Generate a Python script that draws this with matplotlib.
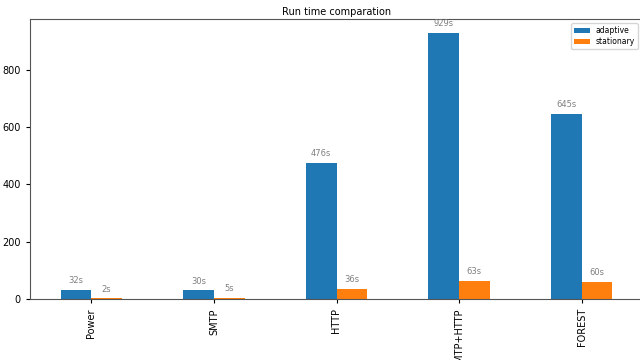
import matplotlib
matplotlib.use("Agg")
import matplotlib.pyplot as plt
import numpy as np

categories = ["Power", "SMTP", "HTTP", "SMTP+HTTP", "FOREST"]
adaptive = [32, 30, 476, 929, 645]
stationary = [2, 5, 36, 63, 60]

fig = plt.figure(figsize=(6.4, 3.6), dpi=100)
ax = fig.add_axes([30/640, 61/360, 613/640, 280/360])
x = np.arange(len(categories))
w = 0.25
b1 = ax.bar(x - w/2, adaptive, w, color="#1f77b4", label="adaptive")
b2 = ax.bar(x + w/2, stationary, w, color="#ff7f0e", label="stationary")
for bars, vals in ((b1, adaptive), (b2, stationary)):
    for r, v in zip(bars, vals):
        ax.annotate(f"{v}s", (r.get_x() + r.get_width()/2, r.get_height()),
                    xytext=(0, 3.5), textcoords="offset points",
                    ha="center", va="bottom", fontsize=6, color="#808080")
ax.set_xlim(-0.5, len(categories) - 0.5)
ax.set_ylim(0, 978)
ax.set_yticks([0, 200, 400, 600, 800])
ax.set_xticks(x)
ax.set_xticklabels(categories, rotation=90)
ax.tick_params(labelsize=7, length=3)
ax.set_title("Run time comparation", fontsize=7, pad=3)
for s in ax.spines.values():
    s.set_color("#555555")
ax.legend(loc="upper right", fontsize=5.5, handlelength=2,
          bbox_to_anchor=(638/640, 337/360), bbox_transform=fig.transFigure,
          borderaxespad=0, borderpad=0.4, labelspacing=0.3)
fig.savefig("out.png", dpi=100)
